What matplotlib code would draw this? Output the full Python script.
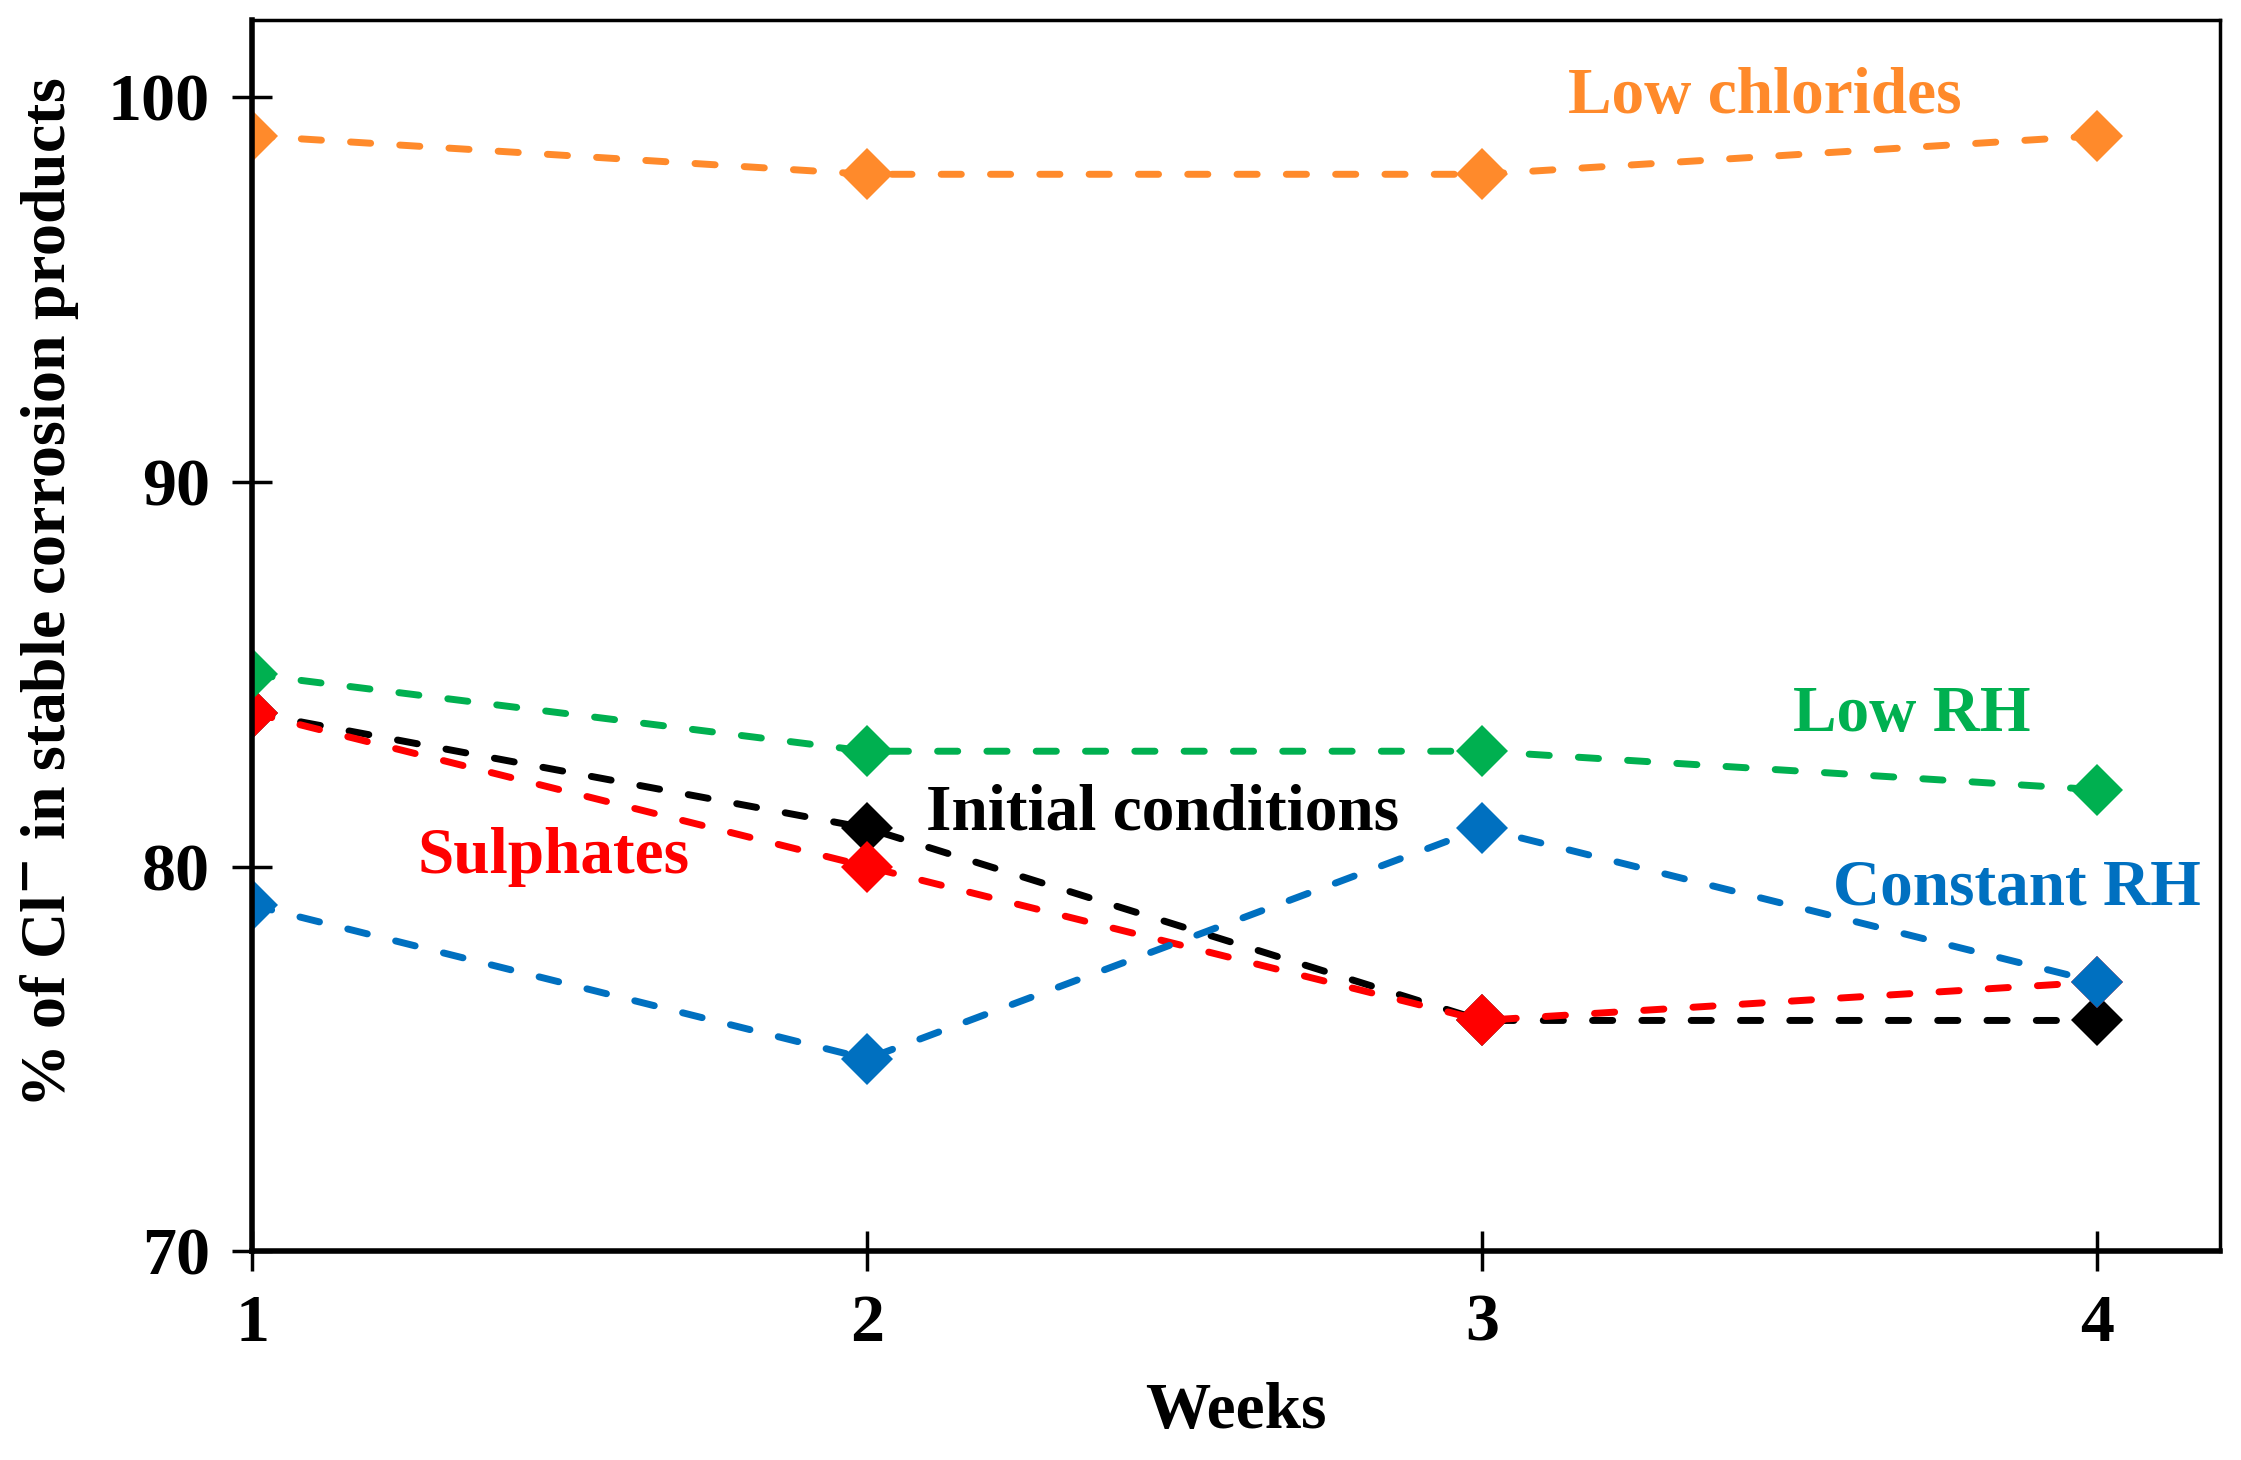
import matplotlib.pyplot as plt

weeks = [1, 2, 3, 4]
initial = [84, 81, 76, 76]
sulphates = [84, 80, 76, 77]
low_rh = [85, 83, 83, 82]
constant_rh = [79, 75, 81, 77]
low_chlorides = [99, 98, 98, 99]

plt.rcParams['font.family'] = ['Liberation Serif', 'DejaVu Serif']
plt.rcParams['font.weight'] = 'bold'

fig = plt.figure(figsize=(22.41, 14.6), dpi=100)
ax = fig.add_axes([0.1125, 0.143, 0.878, 0.843])

series = [
    (initial, 'black'),
    (sulphates, '#FF0000'),
    (low_rh, '#00B050'),
    (constant_rh, '#0070C0'),
    (low_chlorides, '#FF8A2B'),
]
for vals, col in series:
    ax.plot(weeks, vals, linestyle=(0, (2.9, 4.2)), color=col, lw=5,
            dash_capstyle='round', marker='D', markersize=26,
            markeredgewidth=0)

labels = [
    ('Low chlorides', 3.46, 100.0, '#FF8A2B'),
    ('Low RH', 3.70, 83.94, '#00B050'),
    ('Initial conditions', 2.48, 81.38, 'black'),
    ('Sulphates', 1.49, 80.26, '#FF0000'),
    ('Constant RH', 3.87, 79.44, '#0070C0'),
]
for txt, x, y, col in labels:
    ax.text(x, y, txt, color=col, fontsize=47, fontweight='bold',
            ha='center', va='center')

ax.set_xlim(1, 4.2)
ax.set_ylim(70, 102)
ax.set_xticks(weeks)
ax.set_yticks([70, 80, 90, 100])
ax.tick_params(axis='both', direction='inout', length=29, width=2.5,
               labelsize=49, pad=16)
for lab in ax.get_xticklabels() + ax.get_yticklabels():
    lab.set_fontweight('bold')
for side in ['top', 'right']:
    ax.spines[side].set_linewidth(2.5)
for side in ['left', 'bottom']:
    ax.spines[side].set_linewidth(4)

ax.set_xlabel('Weeks', fontsize=47, fontweight='bold', labelpad=20)
ax.set_ylabel('% of Cl$^{\\mathbf{-}}$ in stable corrosion products',
              fontsize=46, fontweight='bold')
ax.yaxis.set_label_coords(-0.087, 0.535)

fig.savefig('out.png', dpi=100)
